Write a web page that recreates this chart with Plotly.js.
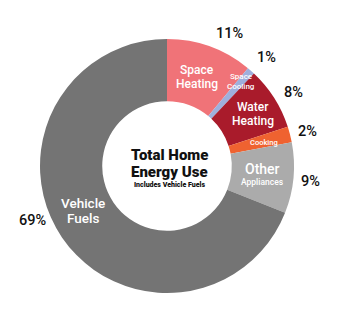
<!DOCTYPE html>
<html>
<head>
<meta charset="utf-8">
<script src="https://cdn.plot.ly/plotly-3.0.1.min.js"></script>
<style>html,body{margin:0;padding:0;background:#fff;}#chart{width:354px;height:314px;}</style>
</head>
<body>
<div id="chart"></div>
<script>
var categories = ["Space Heating", "Space Cooling", "Water Heating", "Cooking", "Other Appliances", "Vehicle Fuels"];
var values = [11, 1, 8, 2, 9, 69];
var percentLabels = ["11%", "1%", "8%", "2%", "9%", "69%"];
var colors = ["#f07378", "#9fafdc", "#a91b2b", "#ef6230", "#ababab", "#747474"];

var W = 354, H = 314;
var m = {l: 40, r: 60, t: 39, b: 21};
var pw = W - m.l - m.r, ph = H - m.t - m.b;
function px(x) { return (x - m.l) / pw; }
function py(y) { return 1 - (y - m.t) / ph; }

var trace = {
  type: "pie",
  labels: categories,
  values: values,
  sort: false,
  direction: "clockwise",
  rotation: 0,
  hole: 0.51,
  textinfo: "none",
  hoverinfo: "label+percent",
  marker: {colors: colors, line: {width: 0}},
  showlegend: false
};

var ann = [];
function addText(text, x, y, size, color, weight) {
  ann.push({
    text: text,
    x: px(x), y: py(y), xref: "paper", yref: "paper",
    showarrow: false, xanchor: "center", yanchor: "middle", align: "center",
    font: {family: "Roboto, sans-serif", size: size, color: color, weight: weight || 400}
  });
}
// outside percentage labels
var pctPos = [[229, 33], [266, 58], [293, 92], [307, 131], [310, 181], [32, 220]];
for (var i = 0; i < percentLabels.length; i++) {
  addText(percentLabels[i], pctPos[i][0], pctPos[i][1], 14.5, "#111", 500);
}
// inside slice labels
addText("Space", 197, 70, 12, "#fff", 500);
addText("Heating", 197, 84, 12, "#fff", 500);
addText("Space", 241, 76, 8, "#fff", 500);
addText("Cooling", 241, 86, 8, "#fff", 500);
addText("Water", 253, 106.5, 12, "#fff", 500);
addText("Heating", 253, 120.5, 12, "#fff", 500);
addText("Cooking", 264, 142, 7.5, "#fff", 500);
addText("Other", 262, 169, 14, "#fff", 500);
addText("Appliances", 262, 182, 8.5, "#fff", 500);
addText("Vehicle", 83, 202.5, 13.5, "#fff", 500);
addText("Fuels", 83, 218, 13.5, "#fff", 500);
// center text
addText("Total Home", 169, 155, 15, "#111", 900);
addText("Energy Use", 169, 172, 15, "#111", 900);
addText("Includes Vehicle Fuels", 169, 185, 7, "#111", 900);

var layout = {
  width: W, height: H,
  margin: m,
  paper_bgcolor: "#fff",
  plot_bgcolor: "#fff",
  annotations: ann,
  font: {family: "Roboto, sans-serif"}
};
Plotly.newPlot("chart", [trace], layout, {displayModeBar: false, staticPlot: true});
</script>
</body>
</html>
